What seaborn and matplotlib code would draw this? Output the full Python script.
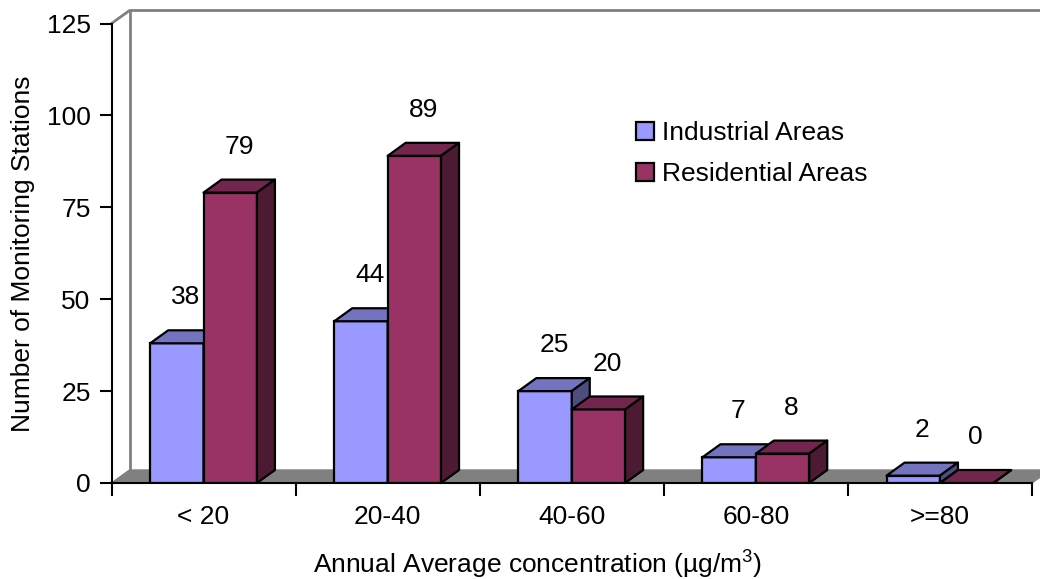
import numpy as np
import pandas as pd
import matplotlib
matplotlib.use("Agg")
import matplotlib.pyplot as plt
from matplotlib.patches import Polygon, Patch
import seaborn as sns

# --- data ---
ranges = ["< 20", "20-40", "40-60", "60-80", ">=80"]
industrial = [38, 44, 25, 7, 2]
residential = [79, 89, 20, 8, 0]
areas = ["Industrial Areas", "Residential Areas"]

df = pd.DataFrame({
    "range": ranges * 2,
    "count": industrial + residential,
    "area": [areas[0]] * len(ranges) + [areas[1]] * len(ranges),
})

# front / top / side shades for each series
front = ["#9999FF", "#993366"]
top = ["#7373C0", "#73264D"]
side = ["#4D4D80", "#4D1A33"]

sns.set_style("white")
plt.rcParams["font.family"] = ["Liberation Sans", "DejaVu Sans"]
plt.rcParams["mathtext.fontset"] = "custom"
plt.rcParams["mathtext.rm"] = "Liberation Sans"
for key in ["text.color", "axes.labelcolor", "xtick.color", "ytick.color"]:
    plt.rcParams[key] = "black"
FS = 19

fig = plt.figure(figsize=(10.4, 5.79), dpi=100)
ax = fig.add_axes([111.5 / 1040, 1 - 483 / 579, 920.5 / 1040, 459.5 / 579])

sns.barplot(data=df, x="range", y="count", hue="area", palette=front,
            width=0.58, saturation=1, edgecolor="black", linewidth=1.6,
            legend=False, ax=ax)

ax.set_xlim(-0.5, 4.5)
ax.set_ylim(0, 125)

# depth of the fake 3D effect, in pixels -> data units
ax_w, ax_h = 920.5, 459.5
dx = 18 * 5 / ax_w
dy = 13 * 125 / ax_h

# back wall and floor
gray = "#808080"
floor = Polygon([(-0.5, 0), (-0.5 + dx, dy), (4.5 + dx, dy), (4.5, 0)],
                closed=True, facecolor=gray, edgecolor=gray, lw=1, zorder=1,
                clip_on=False)
ax.add_patch(floor)
ax.plot([-0.5 + dx, -0.5 + dx], [dy, 125 + dy], color=gray, lw=2,
        zorder=0.5, clip_on=False)
ax.plot([-0.5, -0.5 + dx, 5.0], [125, 125 + dy, 125 + dy], color=gray, lw=2,
        zorder=0.5, clip_on=False)

# 3D tops and sides, drawn left to right so the next bar hides the side
bars = []
for k, cont in enumerate(ax.containers):
    for b in cont.patches:
        bars.append((b.get_x(), k, b))
bars.sort(key=lambda t: t[0])

for i, (x0, k, b) in enumerate(bars):
    w, h = b.get_width(), b.get_height()
    z = 2 + i
    b.set_zorder(z)
    tp = Polygon([(x0, h), (x0 + dx, h + dy), (x0 + w + dx, h + dy), (x0 + w, h)],
                 closed=True, facecolor=top[k], edgecolor="black", lw=1.6,
                 zorder=z + 0.1, joinstyle="round")
    sd = Polygon([(x0 + w, 0), (x0 + w + dx, dy), (x0 + w + dx, h + dy), (x0 + w, h)],
                 closed=True, facecolor=side[k], edgecolor="black", lw=1.6,
                 zorder=z + 0.1, joinstyle="round")
    ax.add_patch(tp)
    ax.add_patch(sd)
    ax.text(x0 + w / 2 + dx / 2, h + 12.5, f"{int(h)}", ha="center", va="center",
            fontsize=FS, zorder=20)

# axes styling
for s in ["top", "right"]:
    ax.spines[s].set_visible(False)
for s in ["left", "bottom"]:
    ax.spines[s].set_linewidth(1.5)
    ax.spines[s].set_color("black")
    ax.spines[s].set_zorder(30)

ax.set_yticks(np.arange(0, 126, 25))
ax.tick_params(axis="y", length=9, width=1.5, color="black", pad=6,
               labelsize=FS, left=True, direction="out")
ax.set_xticks(range(len(ranges)))
ax.set_xticklabels(ranges)
ax.set_xticks(np.arange(-0.5, 4.6, 1), minor=True)
ax.tick_params(axis="x", which="major", length=0, pad=16, labelsize=FS)
ax.tick_params(axis="x", which="minor", length=9, width=1.5, color="black",
               bottom=True, direction="out")

ax.set_ylabel("Number of Monitoring Stations", fontsize=FS)
ax.yaxis.set_label_coords(-0.083, 0.5)
ax.set_xlabel(r"Annual Average concentration (µg/m$^{\mathrm{3}}$)", fontsize=FS)
ax.xaxis.set_label_coords(0.463, -0.14)

# legend
handles = [Patch(facecolor=front[k], edgecolor="black", lw=1.6) for k in range(2)]
fig.legend(handles, areas, loc="upper left", bbox_to_anchor=(636 / 1040, 1 - 121 / 579),
           frameon=False, fontsize=FS, handlelength=0.7, handleheight=0.7,
           handletextpad=0.3, labelspacing=0.65, borderpad=0, borderaxespad=0)

fig.savefig("out.png", dpi=100)
